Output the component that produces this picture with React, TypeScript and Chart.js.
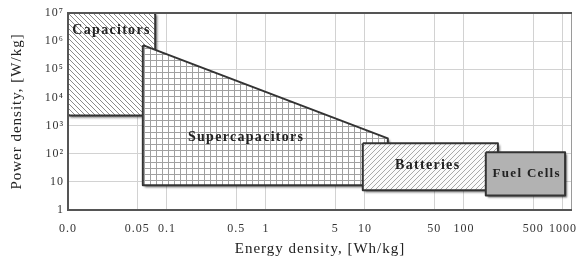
import React, { useEffect, useRef } from "react";
import { Chart, registerables } from "chart.js";

// ---- data ----
const xTicks = [0.01, 0.05, 0.1, 0.5, 1, 5, 10, 50, 100, 500, 1000];
const xTickLabels = ["0.0", "0.05", "0.1", "0.5", "1", "5", "10", "50", "100", "500", "1000"];
const yTicks = [1, 10, 100, 1e3, 1e4, 1e5, 1e6, 1e7];
const yTickLabels = ["1", "10", "10²", "10³", "10⁴", "10⁵", "10⁶", "10⁷"];

const technologies = ["Capacitors", "Supercapacitors", "Batteries", "Fuel Cells"];

// region outlines: energy density [Wh/kg], power density [W/kg]
const capacitorsEnergy = [0.01, 0.076, 0.076, 0.01, 0.01];
const capacitorsPower = [1e7, 1e7, 2300, 2300, 1e7];
const supercapEnergy = [0.057, 17, 17, 0.057, 0.057];
const supercapPower = [7.2e5, 350, 7.6, 7.6, 7.2e5];
const batteriesEnergy = [9.5, 220, 220, 9.5, 9.5];
const batteriesPower = [234, 234, 5, 5, 234];
const fuelCellsEnergy = [166, 1050, 1050, 166, 166];
const fuelCellsPower = [112, 112, 3.3, 3.3, 112];

// label anchors (energy, power)
const labelEnergy = [0.0275, 0.63, 43, 430];
const labelPower = [2.5e6, 390, 39, 20];

const shadowOn = {
  id: "shadowOn",
  beforeDatasetDraw(chart: any) {
    const ctx = chart.ctx;
    ctx.save();
    ctx.shadowColor = "rgba(0,0,0,0.55)";
    ctx.shadowOffsetX = 2;
    ctx.shadowOffsetY = 2;
    ctx.shadowBlur = 2;
  },
  afterDatasetDraw(chart: any) {
    chart.ctx.restore();
  },
};

Chart.register(shadowOn, ...registerables);

const toPts = (xs: number[], ys: number[]) => xs.map((x, i) => ({ x, y: ys[i] }));

function makePattern(size: number, draw: (c: CanvasRenderingContext2D, s: number) => void, bg: string) {
  const cv = document.createElement("canvas");
  cv.width = size;
  cv.height = size;
  const c = cv.getContext("2d")!;
  c.fillStyle = bg;
  c.fillRect(0, 0, size, size);
  draw(c, size);
  return c.createPattern(cv, "repeat")!;
}

export default function App() {
  const ref = useRef<HTMLCanvasElement>(null);
  useEffect(() => {
    const canvas = ref.current!;
    const back = makePattern(5, (c, s) => {
      c.strokeStyle = "#8a8a8a";
      c.lineWidth = 1;
      c.beginPath();
      c.moveTo(-1, -1); c.lineTo(s + 1, s + 1);
      c.moveTo(-1, s - 1); c.lineTo(1, s + 1);
      c.moveTo(s - 1, -1); c.lineTo(s + 1, 1);
      c.stroke();
    }, "#ffffff");
    const fwd = makePattern(5, (c, s) => {
      c.strokeStyle = "#a8a8a8";
      c.lineWidth = 1;
      c.beginPath();
      c.moveTo(-1, s + 1); c.lineTo(s + 1, -1);
      c.moveTo(-1, 1); c.lineTo(1, -1);
      c.moveTo(s - 1, s + 1); c.lineTo(s + 1, s - 1);
      c.stroke();
    }, "#fafafa");
    const grid = makePattern(6, (c, s) => {
      c.fillStyle = "#a0a0a0";
      c.fillRect(0, 0, s, 1);
      c.fillRect(0, 0, 1, s);
    }, "#ffffff");

    const font = "'Liberation Serif', 'DejaVu Serif', serif";
    const ctx0 = canvas.getContext("2d") as any;
    ctx0.letterSpacing = "1px";

    const spacing = {
      id: "spacing",
      beforeLayout(chart: any) { (chart.ctx as any).letterSpacing = "1px"; },
      beforeDraw(chart: any) { (chart.ctx as any).letterSpacing = "1px"; },
    };

    const noShadow = {
      id: "noShadow",
      beforeDatasetDraw(chart: any) {
        const ctx = chart.ctx;
        ctx.shadowColor = "rgba(0,0,0,0)";
        ctx.shadowOffsetX = 0;
        ctx.shadowOffsetY = 0;
        ctx.shadowBlur = 0;
      },
    };

    const frame = {
      id: "frame",
      afterDraw(chart: any) {
        const { ctx, chartArea: a } = chart;
        ctx.save();
        ctx.strokeStyle = "#9a9a9a";
        ctx.lineWidth = 1;
        ctx.beginPath();
        ctx.moveTo(a.right - 0.5, a.top);
        ctx.lineTo(a.right - 0.5, a.bottom);
        ctx.stroke();
        ctx.strokeStyle = "#555";
        ctx.lineWidth = 2;
        ctx.beginPath();
        ctx.moveTo(a.right, a.top);
        ctx.lineTo(a.left, a.top);
        ctx.lineTo(a.left, a.bottom);
        ctx.lineTo(a.right, a.bottom);
        ctx.stroke();
        ctx.restore();
      },
    };

    const labelSizes = [14, 14, 14, 13];
    const labels = {
      id: "regionLabels",
      afterDatasetsDraw(chart: any) {
        const { ctx, scales } = chart;
        ctx.save();
        ctx.fillStyle = "#222";
        ctx.textAlign = "center";
        ctx.textBaseline = "middle";
        ctx.letterSpacing = "1.3px";
        technologies.forEach((t, i) => {
          ctx.font = `bold ${labelSizes[i]}px ${font}`;
          ctx.fillText(t, scales.x.getPixelForValue(labelEnergy[i]), scales.y.getPixelForValue(labelPower[i]));
        });
        ctx.restore();
      },
    };

    const common = {
      showLine: true,
      fill: "shape",
      borderColor: "#333",
      borderWidth: 2,
      borderJoinStyle: "round",
      pointRadius: 0,
      tension: 0,
    };

    const chart = new Chart(canvas, {
      type: "line",
      data: {
        datasets: [
          { ...common, label: technologies[0], data: toPts(capacitorsEnergy, capacitorsPower), backgroundColor: back, order: 4 },
          { ...common, label: technologies[1], data: toPts(supercapEnergy, supercapPower), backgroundColor: grid, order: 3 },
          { ...common, label: technologies[2], data: toPts(batteriesEnergy, batteriesPower), backgroundColor: fwd, order: 2 },
          { ...common, label: technologies[3], data: toPts(fuelCellsEnergy, fuelCellsPower), backgroundColor: "#b2b2b2", order: 1 },
        ] as any,
      },
      options: {
        animation: false,
        responsive: true,
        maintainAspectRatio: false,
        layout: { padding: { left: 0, right: 5, top: 13, bottom: 0 } },
        plugins: { legend: { display: false }, tooltip: { enabled: false } },
        scales: {
          x: {
            type: "logarithmic",
            min: 0.01,
            max: 1233,
            afterBuildTicks: (s: any) => { s.ticks = xTicks.map((v) => ({ value: v })); },
            afterFit: (s: any) => { s.height = 54; s.paddingLeft = 0; s.paddingRight = 0; },
            ticks: {
              autoSkip: false,
              maxRotation: 0,
              padding: 12,
              color: "#333",
              font: { family: font, size: 12 },
              callback: (_v: any, i: number) => xTickLabels[i],
            },
            grid: { color: "#d2d2d2", drawTicks: false },
            border: { display: false },
            title: { display: true, text: "Energy density, [Wh/kg]", color: "#222", font: { family: font, size: 15 }, padding: { top: 2, bottom: 6 } },
          },
          y: {
            type: "logarithmic",
            min: 1,
            max: 1e7,
            afterBuildTicks: (s: any) => { s.ticks = yTicks.map((v) => ({ value: v })); },
            afterFit: (s: any) => { s.width = 68; s.paddingTop = 0; s.paddingBottom = 0; },
            ticks: {
              autoSkip: false,
              padding: 4,
              color: "#333",
              font: { family: font, size: 12 },
              callback: (_v: any, i: number) => yTickLabels[i],
            },
            grid: { color: "#d2d2d2", drawTicks: false },
            border: { display: false },
            title: { display: true, text: "Power density, [W/kg]", color: "#222", font: { family: font, size: 15 }, padding: { top: 8, bottom: 0 } },
          },
        },
      } as any,
      plugins: [spacing, noShadow, labels, frame],
    });
    return () => chart.destroy();
  }, []);
  return (
    <div style={{ position: "fixed", left: 0, top: 0, width: 577, height: 264, background: "#fff" }}>
      <canvas ref={ref} />
    </div>
  );
}
